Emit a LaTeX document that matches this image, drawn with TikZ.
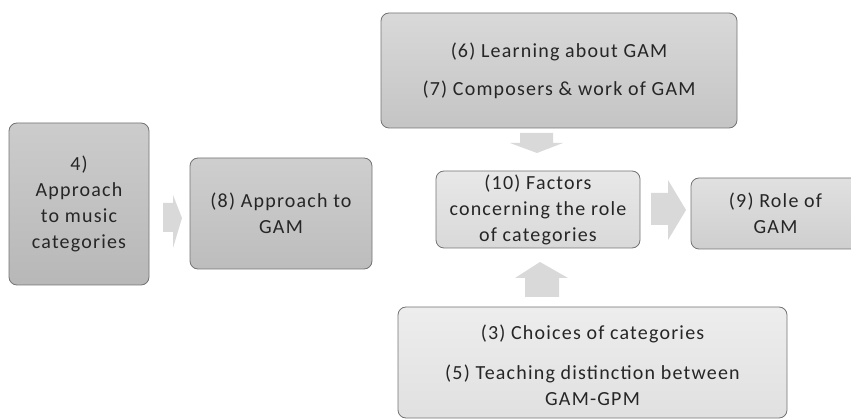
\documentclass[tikz,border=0pt]{standalone}
\usepackage{fontspec}
\setmainfont{Carlito}[LetterSpace=6]
\begin{document}
\begin{tikzpicture}[x=1pt,y=-1pt,
  box/.style={draw=black!55, line width=0.8pt, rounded corners=8pt, inner sep=0pt, align=center,
    font=\fontsize{20}{26}\selectfont, text=black!85},
  blockarrow/.style={fill=black!15, draw=none}]
\useasboundingbox (0,0) rectangle (851,419);
\node[box, minimum width=140, minimum height=162, top color=black!20, bottom color=black!28] (b4) at (79,204) {4)\\Approach\\to music\\categories};
\node[box, minimum width=182, minimum height=111, top color=black!19, bottom color=black!26] (b8) at (281,213.5) {(8) Approach to\\GAM};
\node[box, minimum width=356, minimum height=115, top color=black!15, bottom color=black!23] (b67) at (559,70.5) {(6) Learning about GAM\\[12pt](7) Composers \& work of GAM};
\node[box, minimum width=204, minimum height=77, top color=black!9, bottom color=black!15] (b10) at (538,209.5) {(10) Factors\\concerning the role\\of categories};
\node[box, minimum width=169, minimum height=71, top color=black!12, bottom color=black!19] (b9) at (775.5,213.5) {(9) Role of\\GAM};
\node[box, minimum width=389, minimum height=111, top color=black!7, bottom color=black!12] (b35) at (592.5,362.5) {};
\node[align=center, font=\fontsize{20}{26}\selectfont, text=black!85] (t35) at (592.5,365.5) {(3) Choices of categories\\[14pt](5) Teaching distinction between\\GAM-GPM};
% block arrows
\fill[blockarrow] (163,203) -- (173,203) -- (173,195) -- (182,218) -- (173,248) -- (173,232) -- (163,232) -- cycle;
\fill[blockarrow] (651,193) -- (668,193) -- (668,180) -- (686,210) -- (668,240) -- (668,225) -- (651,225) -- cycle;
\fill[blockarrow] (520,133) -- (553,133) -- (553,143) -- (563,143) -- (537,153) -- (510,143) -- (520,143) -- cycle;
\fill[blockarrow] (525,297) -- (559,297) -- (559,278) -- (568,278) -- (540,262) -- (515,278) -- (525,278) -- cycle;
\end{tikzpicture}
\end{document}
